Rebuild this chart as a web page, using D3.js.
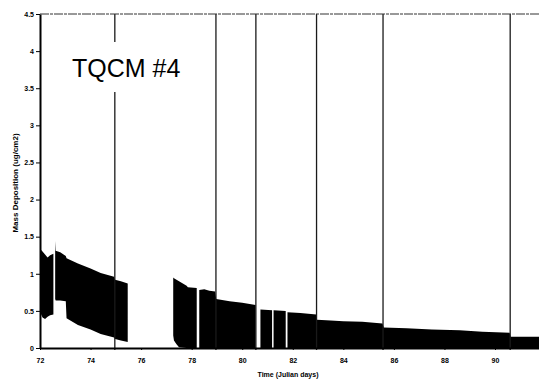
<!DOCTYPE html>
<html>
<head>
<meta charset="utf-8">
<script src="https://cdn.jsdelivr.net/npm/d3@7"></script>
<style>
  body { margin: 0; background: #fff; }
  svg { display: block; }
</style>
</head>
<body>
<div class="chart"></div>
<script>
// TQCM #4 mass deposition.
// The trace is a dense oscillation, so it is kept as an upper / lower envelope.
// null marks a break in the record.
const bandDay = [
  72.02, 72.1, 72.2, 72.3, 72.4, 72.53, null,
  72.6, 72.62, 72.8, 73.02, 73.05, 73.5, 74.0, 74.4, 74.93, 74.97, 75.2, 75.47, null,
  77.27, 77.3, 77.4, 77.5, 77.8, 77.85, 78.2, null,
  78.3, 78.5, 78.7, 78.93, 78.97, 79.5, 80.0, 80.53, null,
  80.72, 81.18, null,
  81.24, 81.72, null,
  81.79, 82.3, 82.93,
  82.96, 83.5, 84.0, 84.75, 85.55,
  85.6, 86.5, 87.5, 88.6, 89.5, 90.58,
  90.62, 91.2, 91.74
];
const bandHi = [
  1.33, 1.30, 1.26, 1.22, 1.25, 1.27, null,
  1.44, 1.31, 1.29, 1.24, 1.21, 1.14, 1.07, 1.01, 0.96, 0.92, 0.90, 0.87, null,
  0.95, 0.94, 0.92, 0.90, 0.84, 0.82, 0.81, null,
  0.78, 0.79, 0.77, 0.76, 0.66, 0.63, 0.61, 0.58, null,
  0.52, 0.51, null,
  0.51, 0.50, null,
  0.48, 0.47, 0.45,
  0.38, 0.37, 0.36, 0.355, 0.33,
  0.275, 0.265, 0.25, 0.24, 0.22, 0.205,
  0.15, 0.15, 0.15
];
const bandLo = [
  0.47, 0.41, 0.39, 0.42, 0.44, 0.45, null,
  0.66, 0.64, 0.64, 0.63, 0.40, 0.31, 0.25, 0.19, 0.14, 0.12, 0.10, 0.08, null,
  0.17, 0.10, 0.05, 0.01, 0, 0, 0, null,
  0, 0, 0, 0, 0, 0, 0, 0, null,
  0, 0, null,
  0, 0, null,
  0, 0, 0,
  0, 0, 0, 0, 0,
  0, 0, 0, 0, 0, 0,
  0, 0, 0
];

// single readings that shot off the top of the scale
const spikeDay = [74.96, 78.96, 80.54, 82.94, 85.57, 90.6];
const spikeBreak = [3.45, 4.15]; // the first spike is broken here

const xTicks = [72, 74, 76, 78, 80, 82, 84, 86, 88, 90];
const yTicks = [0, 0.5, 1, 1.5, 2, 2.5, 3, 3.5, 4, 4.5];

const width = 539, height = 379;
const plotLeft = 40, plotRight = 539, plotTop = 14, plotBottom = 348;

const svg = d3.select("div.chart").append("svg")
  .attr("width", width)
  .attr("height", height);

const x = d3.scaleLinear().domain([72, 91.74]).range([plotLeft, plotRight]);
const y = d3.scaleLinear().domain([0, 4.5]).range([plotBottom, plotTop]);

const pts = bandDay.map((d, i) => ({ day: d, hi: bandHi[i], lo: bandLo[i] }));

const area = d3.area()
  .defined(d => d.day != null)
  .x(d => x(d.day))
  .y0(d => y(d.lo))
  .y1(d => y(d.hi));

svg.append("path")
  .datum(pts)
  .attr("d", area)
  .attr("fill", "#000");

// spikes
spikeDay.forEach((d, i) => {
  const segs = i == 0
    ? [[0, spikeBreak[0]], [spikeBreak[1], 4.5]]
    : [[0, 4.5]];
  segs.forEach(s => {
    svg.append("line")
      .attr("x1", x(d)).attr("x2", x(d))
      .attr("y1", y(s[0]) + 2).attr("y2", y(s[1]))
      .attr("stroke", "#1a1a1a")
      .attr("stroke-width", 1.3);
  });
});

// top edge of the plot
svg.append("line")
  .attr("x1", plotLeft).attr("x2", plotRight)
  .attr("y1", y(4.5)).attr("y2", y(4.5))
  .attr("stroke", "#333")
  .attr("stroke-width", 1)
  .attr("stroke-dasharray", "9,1,3,1");

// axes
const yAxis = svg.append("g")
  .attr("transform", "translate(" + plotLeft + ",0)")
  .call(d3.axisLeft(y).tickValues(yTicks).tickSize(4).tickSizeOuter(0).tickPadding(2)
    .tickFormat(d3.format("")));

const xAxis = svg.append("g")
  .attr("transform", "translate(0," + plotBottom + ")")
  .call(d3.axisBottom(x).tickValues(xTicks).tickSize(2).tickSizeOuter(0).tickPadding(8)
    .tickFormat(d3.format("")));

[yAxis, xAxis].forEach(a => {
  a.select(".domain").attr("stroke", "#000").attr("stroke-width", 2);
  a.selectAll(".tick line").attr("stroke", "#000").attr("stroke-width", 1);
  a.selectAll(".tick text")
    .attr("fill", "#000")
    .style("font-family", "'Liberation Sans', Arial, sans-serif")
    .style("font-weight", "bold")
    .style("font-size", "7px");
});

// axis titles
svg.append("text")
  .attr("x", 288).attr("y", 377)
  .attr("text-anchor", "middle")
  .style("font-family", "'Liberation Sans', Arial, sans-serif")
  .style("font-weight", "bold")
  .style("font-size", "7px")
  .text("Time (Julian days)");

svg.append("text")
  .attr("transform", "translate(18,183) rotate(-90)")
  .attr("text-anchor", "middle")
  .style("font-family", "'Liberation Sans', Arial, sans-serif")
  .style("font-weight", "bold")
  .style("font-size", "8px")
  .text("Mass Deposition (ug/cm2)");

// label inside the plot
svg.append("text")
  .attr("x", 72).attr("y", 77)
  .style("font-family", "'Liberation Sans', Arial, sans-serif")
  .style("font-size", "25px")
  .text("TQCM #4");
</script>
</body>
</html>
